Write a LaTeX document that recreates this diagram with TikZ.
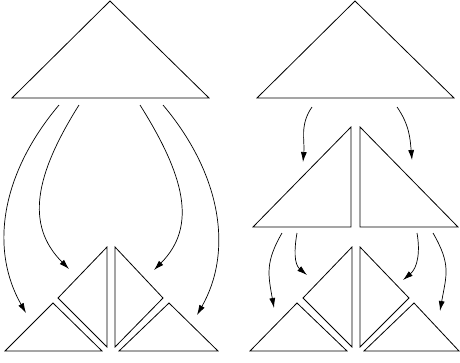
\documentclass[tikz,border=0pt]{standalone}
\usetikzlibrary{arrows.meta}
\begin{document}
\begin{tikzpicture}[x=1pt,y=-1pt,
  tri/.style={draw=black,line width=0.8pt,line join=miter},
  arr/.style={draw=black,line width=0.7pt,-{Latex[length=10pt,width=6pt]}}]
\useasboundingbox (0,0) rectangle (460,362);
% left group
\draw[tri] (110,1) -- (12,98) -- (209,98) -- cycle;
\draw[tri] (53,303) -- (5,351) -- (102,351) -- cycle;
\draw[tri] (107,247) -- (58,298) -- (107,347) -- cycle;
\draw[tri] (115,247) -- (163,298) -- (115,347) -- cycle;
\draw[tri] (169,303) -- (119,351) -- (218,351) -- cycle;
% right group
\draw[tri] (355,1) -- (257,98) -- (454,98) -- cycle;
\draw[tri] (351,127) -- (253,227) -- (351,227) -- cycle;
\draw[tri] (360,127) -- (360,227) -- (458,227) -- cycle;
\draw[tri] (297,303) -- (250,351) -- (347,351) -- cycle;
\draw[tri] (352,247) -- (303,298) -- (352,347) -- cycle;
\draw[tri] (360,247) -- (409,298) -- (360,347) -- cycle;
\draw[tri] (414,303) -- (364,351) -- (459,351) -- cycle;
% arrow endpoints
\coordinate (a1s) at (59,105); \coordinate (a1e) at (26,313);
\coordinate (a2s) at (79,105); \coordinate (a2e) at (69,269);
\coordinate (a3s) at (140,105); \coordinate (a3e) at (154,270);
\coordinate (a4s) at (163,105); \coordinate (a4e) at (197,315);
\coordinate (b1s) at (312,107); \coordinate (b1e) at (303,162);
\coordinate (b2s) at (397,107); \coordinate (b2e) at (412,160);
\coordinate (c1s) at (282,233); \coordinate (c1e) at (274,308);
\coordinate (c2s) at (297,233); \coordinate (c2e) at (307,275);
\coordinate (c3s) at (417,233); \coordinate (c3e) at (403,280);
\coordinate (c4s) at (433,233); \coordinate (c4e) at (440,311);
\draw[arr] (a1s) .. controls (0,175) and (-10,250) .. (a1e);
\draw[arr] (a2s) .. controls (35,175) and (25,225) .. (a2e);
\draw[arr] (a3s) .. controls (184,175) and (198,226) .. (a3e);
\draw[arr] (a4s) .. controls (222,175) and (233,252) .. (a4e);
\draw[arr] (b1s) to[out=-125,in=85] (b1e);
\draw[arr] (b2s) to[out=-55,in=95] (b2e);
\draw[arr] (c1s) to[out=-120,in=100,looseness=1.15] (c1e);
\draw[arr] (c2s) to[out=-100,in=140] (c2e);
\draw[arr] (c3s) to[out=-80,in=40] (c3e);
\draw[arr] (c4s) to[out=-60,in=80,looseness=1.2] (c4e);
\end{tikzpicture}
\end{document}
